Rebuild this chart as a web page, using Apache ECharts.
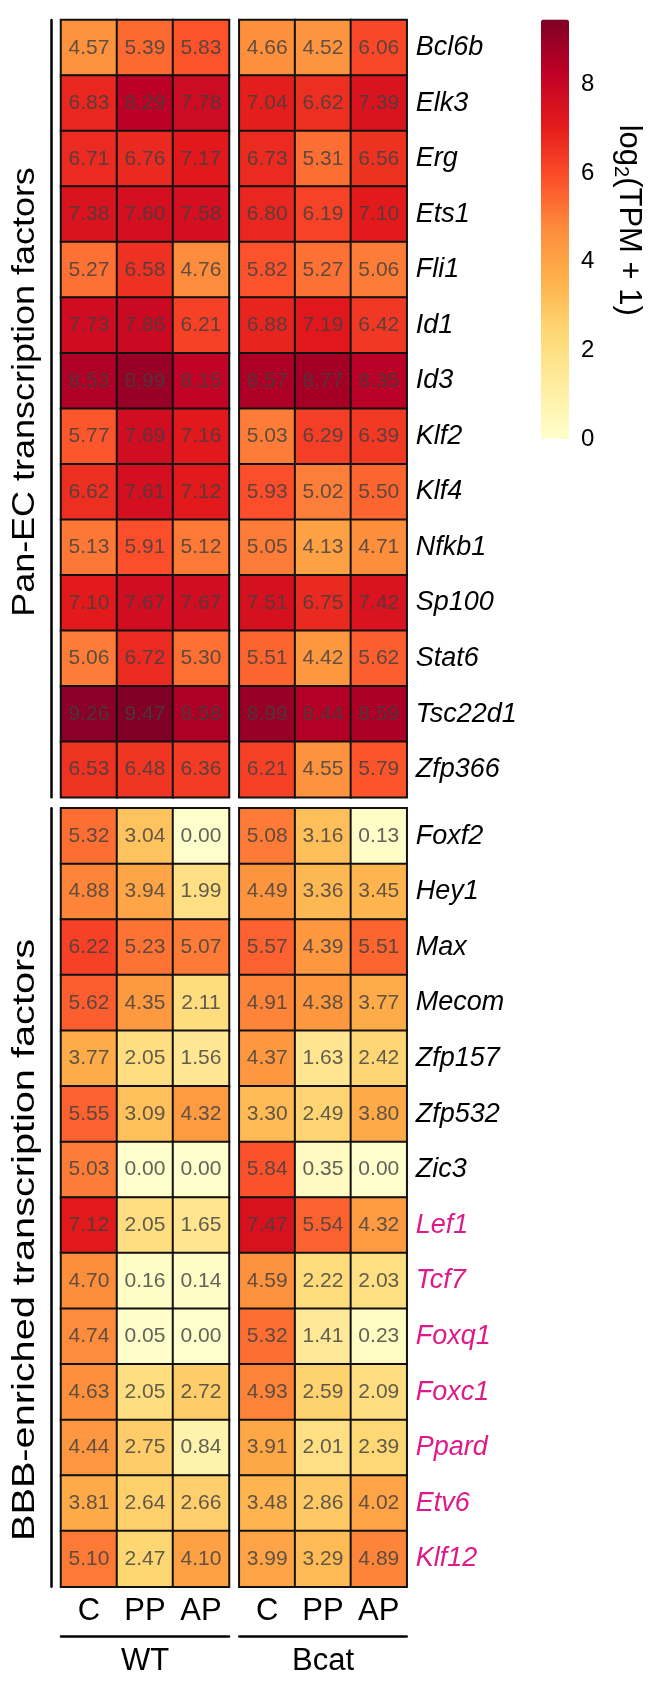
<!DOCTYPE html>
<html>
<head>
<meta charset="utf-8">
<script src="https://cdn.jsdelivr.net/npm/echarts@6/dist/echarts.min.js"></script>
<style>
html,body{margin:0;padding:0;background:#fff;}
#chart{width:660px;height:1688px;}
</style>
</head>
<body>
<div id="chart"></div>
<script>
// ---- data ----
const conditions = ['C', 'PP', 'AP'];
const groupNames = ['WT', 'Bcat'];
const sectionNames = ['Pan-EC transcription factors', 'BBB-enriched transcription factors'];

const panEcGenes = ['Bcl6b', 'Elk3', 'Erg', 'Ets1', 'Fli1', 'Id1', 'Id3', 'Klf2', 'Klf4', 'Nfkb1', 'Sp100', 'Stat6', 'Tsc22d1', 'Zfp366'];
const bbbGenes = ['Foxf2', 'Hey1', 'Max', 'Mecom', 'Zfp157', 'Zfp532', 'Zic3', 'Lef1', 'Tcf7', 'Foxq1', 'Foxc1', 'Ppard', 'Etv6', 'Klf12'];
const highlightedGenes = ['Lef1', 'Tcf7', 'Foxq1', 'Foxc1', 'Ppard', 'Etv6', 'Klf12'];

// rows = genes, columns = C, PP, AP
const panEcWT = [
  [4.57, 5.39, 5.83], [6.83, 8.29, 7.78], [6.71, 6.76, 7.17], [7.38, 7.60, 7.58],
  [5.27, 6.58, 4.76], [7.73, 7.86, 6.21], [8.53, 8.99, 8.15], [5.77, 7.69, 7.16],
  [6.62, 7.61, 7.12], [5.13, 5.91, 5.12], [7.10, 7.67, 7.67], [5.06, 6.72, 5.30],
  [9.26, 9.47, 8.58], [6.53, 6.48, 6.36]
];
const panEcBcat = [
  [4.66, 4.52, 6.06], [7.04, 6.62, 7.39], [6.73, 5.31, 6.56], [6.80, 6.19, 7.10],
  [5.82, 5.27, 5.06], [6.88, 7.19, 6.42], [8.57, 8.77, 8.35], [5.03, 6.29, 6.39],
  [5.93, 5.02, 5.50], [5.05, 4.13, 4.71], [7.51, 6.75, 7.42], [5.51, 4.42, 5.62],
  [8.99, 8.44, 8.59], [6.21, 4.55, 5.79]
];
const bbbWT = [
  [5.32, 3.04, 0.00], [4.88, 3.94, 1.99], [6.22, 5.23, 5.07], [5.62, 4.35, 2.11],
  [3.77, 2.05, 1.56], [5.55, 3.09, 4.32], [5.03, 0.00, 0.00], [7.12, 2.05, 1.65],
  [4.70, 0.16, 0.14], [4.74, 0.05, 0.00], [4.63, 2.05, 2.72], [4.44, 2.75, 0.84],
  [3.81, 2.64, 2.66], [5.10, 2.47, 4.10]
];
const bbbBcat = [
  [5.08, 3.16, 0.13], [4.49, 3.36, 3.45], [5.57, 4.39, 5.51], [4.91, 4.38, 3.77],
  [4.37, 1.63, 2.42], [3.30, 2.49, 3.80], [5.84, 0.35, 0.00], [7.47, 5.54, 4.32],
  [4.59, 2.22, 2.03], [5.32, 1.41, 0.23], [4.93, 2.59, 2.09], [3.91, 2.01, 2.39],
  [3.48, 2.86, 4.02], [3.99, 3.29, 4.89]
];

const colorTicks = [0, 2, 4, 6, 8];
const colorMin = 0;
const colorMax = 9.47;
const ylOrRd = ['#FFFFCC', '#FFEDA0', '#FED976', '#FEB24C', '#FD8D3C', '#FC4E2A', '#E31A1C', '#BD0026', '#800026'];

// ---- build ----
const FONT = "'Liberation Sans', Arial, Helvetica, sans-serif";
function toCells(matrix) {
  const out = [];
  matrix.forEach((row, yi) => row.forEach((v, xi) => out.push([xi, yi, v])));
  return out;
}

const gridDefs = [
  { left: 61, top: 20, width: 168, height: 777.3 },
  { left: 239.3, top: 20, width: 167.4, height: 777.3 },
  { left: 61, top: 808.3, width: 168, height: 778.4 },
  { left: 239.3, top: 808.3, width: 167.4, height: 778.4 },
  { left: 541, top: 19.5, width: 28, height: 419.5 }
];

const panels = [
  { grid: 0, genes: panEcGenes, data: panEcWT },
  { grid: 1, genes: panEcGenes, data: panEcBcat },
  { grid: 2, genes: bbbGenes, data: bbbWT },
  { grid: 3, genes: bbbGenes, data: bbbBcat }
];

const xAxes = [];
const yAxes = [];
const series = [];

panels.forEach((p, i) => {
  const isBottom = i >= 2;
  const isRight = i % 2 === 1;
  xAxes.push({
    type: 'category', gridIndex: p.grid, data: conditions, position: 'bottom',
    axisLine: { show: false }, axisTick: { show: false }, splitLine: { show: false },
    axisLabel: { show: isBottom, fontSize: 31, color: '#000', fontFamily: FONT, margin: 9 }
  });
  const yi = {
    type: 'category', gridIndex: p.grid, data: p.genes, inverse: true,
    axisTick: { show: false }, splitLine: { show: false }
  };
  if (isRight) {
    Object.assign(yi, {
      position: 'right', axisLine: { show: false },
      axisLabel: {
        margin: 9,
        formatter: v => (highlightedGenes.indexOf(v) >= 0 ? '{m|' + v + '}' : '{k|' + v + '}'),
        rich: {
          k: { fontSize: 27, fontStyle: 'italic', color: '#000', fontFamily: FONT },
          m: { fontSize: 27, fontStyle: 'italic', color: '#DE1A8A', fontFamily: FONT }
        }
      }
    });
  } else {
    Object.assign(yi, {
      position: 'left', offset: 10,
      axisLine: { show: true, lineStyle: { color: '#000', width: 2.5 } },
      axisLabel: { show: false }
    });
  }
  yAxes.push(yi);
  series.push({
    type: 'heatmap', xAxisIndex: i, yAxisIndex: i, data: toCells(p.data),
    itemStyle: { borderColor: '#111', borderWidth: 2 },
    label: {
      show: true, fontSize: 21, fontFamily: FONT, color: 'rgba(64,64,64,0.82)',
      formatter: q => q.value[2].toFixed(2)
    },
    emphasis: { disabled: true }
  });
});

// group underline axes (WT / Bcat)
[2, 3].forEach((g, k) => {
  xAxes.push({
    type: 'category', gridIndex: g, data: conditions, position: 'bottom', offset: 50,
    axisLine: { show: true, lineStyle: { color: '#000', width: 2.5 } },
    axisTick: { show: false }, axisLabel: { show: false }, splitLine: { show: false },
    name: groupNames[k], nameLocation: 'middle', nameGap: 9,
    nameTextStyle: { fontSize: 31, color: '#000', fontFamily: FONT }
  });
});

// colour bar axis
xAxes.push({ type: 'value', gridIndex: 4, show: false });
yAxes.push({
  type: 'value', gridIndex: 4, min: colorMin, max: colorMax, position: 'right',
  axisLine: { show: false }, axisTick: { show: false }, splitLine: { show: false },
  axisLabel: { customValues: colorTicks, fontSize: 24, color: '#000', fontFamily: FONT, margin: 12 },
  name: '{a|log}{s|2}{a|(TPM + 1)}', nameLocation: 'middle', nameRotate: -90, nameGap: 42,
  nameTextStyle: {
    fontFamily: FONT, color: '#000', padding: [0, 18, 0, 0],
    rich: {
      a: { fontSize: 31, fontFamily: FONT, color: '#000' },
      s: { fontSize: 20, fontFamily: FONT, color: '#000', padding: [16, 0, 0, 0] }
    }
  }
});

// section titles (vertical, slightly stretched along their length as in the figure)
const sectionTitles = [
  { text: sectionNames[0], x: 25, y: 392, stretch: 1.16 },
  { text: sectionNames[1], x: 25, y: 1240, stretch: 1.28 }
];

const option = {
  animation: false,
  backgroundColor: '#fff',
  grid: gridDefs.map(g => Object.assign({ containLabel: false }, g)),
  xAxis: xAxes,
  yAxis: yAxes,
  visualMap: {
    type: 'continuous', min: colorMin, max: colorMax, seriesIndex: [0, 1, 2, 3],
    calculable: false, hoverLink: false, orient: 'vertical',
    left: 541, top: 19.5, itemWidth: 28, itemHeight: 419.5, padding: 0,
    text: null, showLabel: false,
    inRange: { color: ylOrRd }
  },
  graphic: sectionTitles.map(t => ({
    type: 'text', x: t.x, y: t.y, rotation: Math.PI / 2, scaleX: t.stretch, scaleY: 1,
    style: {
      text: t.text, fill: '#000', fontSize: 31, fontFamily: FONT,
      textAlign: 'center', textVerticalAlign: 'middle'
    }
  })),
  series: series
};

const chart = echarts.init(document.getElementById('chart'), null, { renderer: 'canvas' });
chart.setOption(option);
</script>
</body>
</html>
